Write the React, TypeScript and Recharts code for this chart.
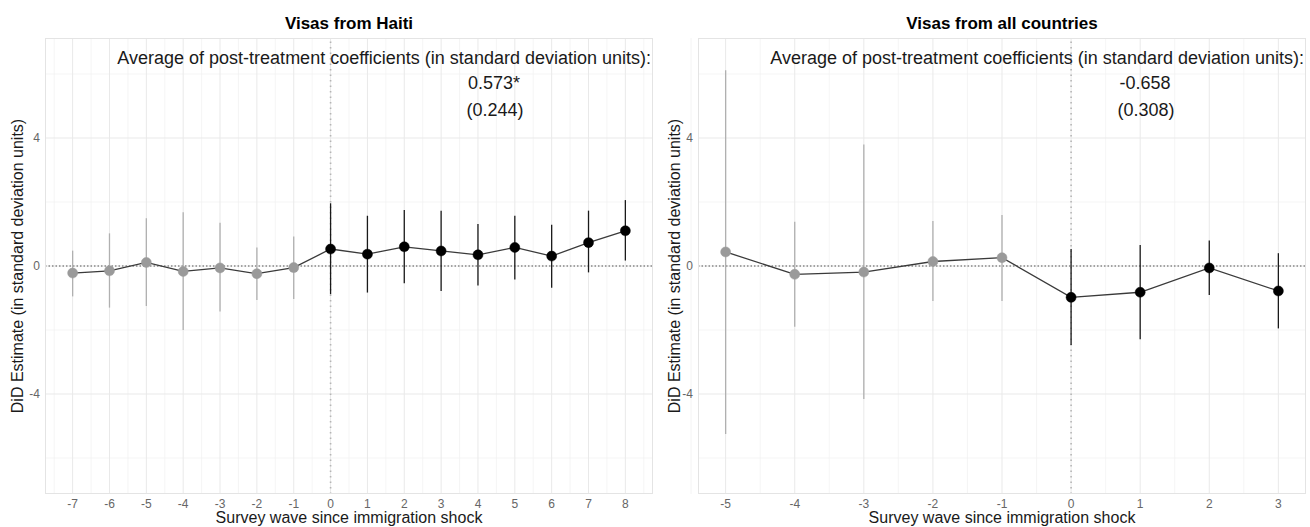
import { CartesianGrid, ComposedChart, ErrorBar, Line, ReferenceLine, XAxis, YAxis } from "recharts"

// Visas from Haiti
const haitiWaves = [-7, -6, -5, -4, -3, -2, -1, 0, 1, 2, 3, 4, 5, 6, 7, 8]
const haitiEst = [-0.22, -0.15, 0.11, -0.17, -0.06, -0.24, -0.05, 0.53, 0.37, 0.6, 0.47, 0.35, 0.58, 0.31, 0.73, 1.1]
const haitiLow = [-0.95, -1.3, -1.25, -2.0, -1.42, -1.06, -1.03, -0.88, -0.83, -0.54, -0.78, -0.61, -0.42, -0.68, -0.2, 0.17]
const haitiHigh = [0.48, 1.02, 1.49, 1.68, 1.35, 0.58, 0.92, 1.96, 1.57, 1.75, 1.73, 1.31, 1.57, 1.29, 1.73, 2.06]

// Visas from all countries
const allWaves = [-5, -4, -3, -2, -1, 0, 1, 2, 3]
const allEst = [0.44, -0.26, -0.19, 0.14, 0.26, -0.98, -0.82, -0.06, -0.78]
const allLow = [-5.25, -1.9, -4.16, -1.09, -1.09, -2.47, -2.29, -0.91, -1.95]
const allHigh = [6.12, 1.38, 3.8, 1.41, 1.59, 0.53, 0.66, 0.8, 0.4]

const yTicks = [-4, 0, 4]
const yMinor = [-6, -2, 2, 6]
const yDomain: [number, number] = [-7.125, 7.125]

const FONT = '"Liberation Sans", Arial, Helvetica, sans-serif'
const H = 527

function rows(waves: number[], est: number[], low: number[], high: number[]) {
  return waves.map((w, i) => ({ wave: w, est: est[i], err: [est[i] - low[i], high[i] - est[i]] }))
}

function Txt({ x, y, anchor = "middle", size, bold, color = "#1a1a1a", rotate, children }: any) {
  const tx = anchor === "end" ? "-100%" : anchor === "start" ? "0" : "-50%"
  return (
    <div
      style={{
        position: "absolute",
        left: x,
        top: y,
        transform: `translate(${tx}, -50%)${rotate ? ` rotate(${rotate}deg)` : ""}`,
        fontSize: size,
        fontWeight: bold ? 700 : 400,
        color,
        whiteSpace: "nowrap",
        lineHeight: 1,
      }}
    >
      {children}
    </div>
  )
}

function Panel({ left, width, axisW, rightPad, title, waves, est, low, high, xDomain, avg, se, avgX }: any) {
  const data = rows(waves, est, low, high)
  const pre = data.filter((d) => d.wave < 0)
  const post = data.filter((d) => d.wave >= 0)
  const minor = [waves[0] - 0.5, ...waves.map((w: number) => w + 0.5)]
  const px0 = left + axisW
  const px1 = left + width - rightPad
  const cx = (px0 + px1) / 2
  return (
    <>
      <div style={{ position: "absolute", left, top: 0 }}>
        <ComposedChart width={width} height={H} margin={{ top: 38, right: rightPad, bottom: 0, left: 0 }}>
          <CartesianGrid verticalValues={minor} horizontalValues={yMinor} stroke="#f1f1f1" strokeWidth={0.7} />
          <CartesianGrid verticalValues={waves} horizontalValues={yTicks} stroke="#e9e9e9" strokeWidth={1} />
          <XAxis
            type="number"
            dataKey="wave"
            domain={xDomain}
            ticks={waves}
            allowDataOverflow
            axisLine={false}
            tickLine={false}
            tickSize={0}
            tickMargin={5}
            height={33}
            tick={{ fill: "#666", fontSize: 12, fontFamily: FONT }}
          />
          <YAxis
            type="number"
            domain={yDomain}
            ticks={yTicks}
            allowDataOverflow
            axisLine={false}
            tickLine={false}
            tickSize={0}
            tickMargin={5}
            width={axisW}
            tick={{ fill: "#666", fontSize: 12, fontFamily: FONT }}
          />
          <ReferenceLine x={0} stroke="#b5b5b5" strokeWidth={1.6} strokeDasharray="1.5 4" />
          <ReferenceLine y={0} stroke="#555" strokeWidth={1} strokeDasharray="1.5 2" />
          <Line data={data} dataKey="est" stroke="#3a3a3a" strokeWidth={1.3} dot={false} activeDot={false} isAnimationActive={false} />
          <Line
            data={pre}
            dataKey="est"
            stroke="none"
            dot={{ r: 5, fill: "#9a9a9a", stroke: "#9a9a9a", strokeWidth: 0.5 }}
            activeDot={false}
            isAnimationActive={false}
          >
            <ErrorBar dataKey="err" width={0} stroke="#b0b0b0" strokeWidth={1.3} direction="y" />
          </Line>
          <Line
            data={post}
            dataKey="est"
            stroke="none"
            dot={{ r: 5, fill: "#000", stroke: "#000", strokeWidth: 0.5 }}
            activeDot={false}
            isAnimationActive={false}
          >
            <ErrorBar dataKey="err" width={0} stroke="#1a1a1a" strokeWidth={1.3} direction="y" />
          </Line>
        </ComposedChart>
      </div>
      <div
        style={{
          position: "absolute",
          left: px0,
          top: 38,
          width: px1 - px0,
          height: 456,
          border: "1px solid #e4e4e4",
          boxSizing: "border-box",
          pointerEvents: "none",
        }}
      />
      <Txt x={cx} y={23} size={17} bold color="#000">
        {title}
      </Txt>
      <Txt x={px1 - 2} y={58} anchor="end" size={18}>
        Average of post-treatment coefficients (in standard deviation units):
      </Txt>
      <Txt x={avgX} y={83} size={18}>
        {avg}
      </Txt>
      <Txt x={avgX + 1} y={110} size={18}>
        {se}
      </Txt>
      <Txt x={cx} y={518} size={16}>
        Survey wave since immigration shock
      </Txt>
      <Txt x={left + (left === 0 ? 17.5 : 19.5)} y={266} size={16} rotate={-90}>
        DiD Estimate (in standard deviation units)
      </Txt>
    </>
  )
}

export default function App() {
  return (
    <div style={{ position: "absolute", left: 0, top: 0, width: 1310, height: H, background: "#fff", fontFamily: FONT }}>
      <Panel
        left={0}
        width={655}
        axisW={45}
        rightPad={2}
        title="Visas from Haiti"
        waves={haitiWaves}
        est={haitiEst}
        low={haitiLow}
        high={haitiHigh}
        xDomain={[-7.75, 8.75]}
        avg="0.573*"
        se="(0.244)"
        avgX={494}
      />
      <Panel
        left={655}
        width={655}
        axisW={43}
        rightPad={4}
        title="Visas from all countries"
        waves={allWaves}
        est={allEst}
        low={allLow}
        high={allHigh}
        xDomain={[-5.4, 3.4]}
        avg="-0.658"
        se="(0.308)"
        avgX={1145}
      />
    </div>
  )
}
